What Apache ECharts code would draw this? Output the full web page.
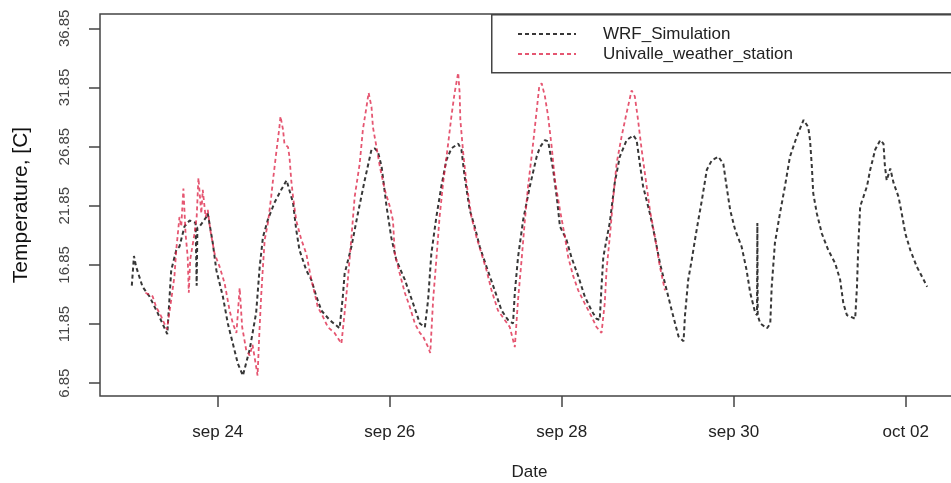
<!DOCTYPE html>
<html><head><meta charset="utf-8">
<script src="https://cdn.jsdelivr.net/npm/echarts@6/dist/echarts.min.js"></script>
<style>html,body{margin:0;padding:0;background:#fff}#c{width:951px;height:483px}</style>
</head><body><div id="c"></div>
<script>
// Start of series: 2019-09-23 00:00 (hours are counted from here)
const startDate = Date.UTC(2019, 8, 23, 0, 0);

const wrfHours = [0,0.6,1.2,3.0,4.9,7.2,9.9,11.0,12.4,13.3,14.7,16.1,17.0,17.8,18.1,18.3,18.9,20.8,21.2,22.6,23.6,25.4,26.8,28.2,29.6,31.0,32.9,34.7,35.7,36.6,38.0,39.8,41.7,43.2,45.0,45.9,46.8,48.7,50.1,51.5,52.9,55.2,58.0,58.9,59.4,61.3,63.1,65.0,66.9,67.8,68.7,69.7,71.1,72.4,73.8,76.2,78.5,80.4,81.8,82.7,83.6,85.0,86.4,87.8,89.2,91.1,92.0,92.9,94.3,95.7,97.1,99.0,101.3,103.2,105.0,106.4,106.9,107.8,109.2,111.1,113.0,113.9,115.3,116.2,117.6,118.6,119.5,121.3,122.7,124.6,126.4,128.3,129.7,130.6,131.1,131.6,132.5,133.4,134.8,136.2,138.1,140.0,140.9,141.8,142.7,144.6,146.0,147.4,149.3,150.7,152.6,154.0,154.4,155.3,156.3,157.2,158.1,159.1,160.5,161.9,163.7,165.1,166.0,167.0,168.4,170.2,171.6,172.6,174.0,174.5,174.6,174.7,175.4,177.3,178.2,178.6,179.5,180.9,182.3,183.7,185.6,187.5,188.8,189.3,189.8,190.2,191.2,192.6,194.4,196.3,197.7,198.6,199.6,201.9,202.4,202.8,203.3,204.2,205.2,206.1,207.5,208.9,209.8,210.2,210.7,211.7,212.6,214.0,214.9,215.9,217.3,219.1,221.0,222.0];
const wrfTemp = [15.1,17.6,16.7,15.0,14.2,12.8,11.0,16.4,18.1,18.4,20.1,20.6,20.5,20.4,15.1,20.0,20.1,20.9,21.2,18.7,16.4,14.2,11.9,10.2,8.5,7.5,9.7,12.8,16.7,19.2,20.7,22.1,23.2,24.0,22.1,19.8,18.1,16.4,15.6,14.2,13.0,12.2,11.5,14.2,16.1,18.4,21.2,24.0,26.6,26.7,26.4,25.2,21.8,19.2,17.3,15.6,13.6,11.9,11.6,13.9,17.8,20.9,23.5,25.7,26.7,27.1,26.6,24.3,21.5,20.1,18.4,16.7,14.7,13.0,12.2,11.9,14.5,17.5,20.6,23.5,26.0,26.8,27.4,27.3,24.9,22.6,20.1,19.0,17.5,15.9,14.2,13.0,12.3,12.2,15.0,17.5,19.0,20.4,23.8,26.0,27.4,27.8,27.4,25.4,23.5,21.2,19.2,17.0,14.7,13.0,10.8,10.4,12.6,15.6,17.3,19.0,20.6,22.3,24.9,25.7,26.0,25.4,23.5,21.5,19.8,18.4,16.4,14.5,12.8,12.6,20.4,12.6,11.9,11.5,11.9,15.0,18.7,21.2,23.5,26.0,27.7,29.1,28.5,27.4,25.2,22.9,21.2,19.5,18.1,17.0,15.6,13.6,12.6,12.3,15.0,18.7,21.8,22.6,23.5,24.9,26.6,27.4,27.1,25.2,24.0,25.0,23.8,22.6,21.2,19.5,18.1,16.7,15.6,15.0];

const stationHours = [3.8,5.8,6.8,8.2,9.8,11.0,11.9,12.4,13.3,13.8,14.4,15.0,15.6,15.9,16.3,17.5,18.1,18.6,19.4,19.8,20.6,21.2,21.9,23.1,24.5,25.9,27.3,28.2,29.2,30.1,30.8,31.9,32.9,33.7,35.1,35.6,36.1,36.6,37.1,38.0,38.9,39.4,40.3,41.2,41.5,42.2,42.6,43.6,44.0,44.5,45.0,45.9,47.3,48.7,50.1,51.0,51.9,53.3,54.7,56.6,58.5,59.4,60.3,61.3,62.2,63.6,64.5,65.5,66.1,66.9,67.3,68.3,69.2,70.6,72.0,72.9,73.4,74.8,76.2,77.6,79.0,80.4,81.3,82.7,83.3,84.1,85.0,85.9,86.9,88.3,89.2,90.1,91.1,91.5,91.7,92.5,93.4,94.8,96.2,97.6,99.0,100.4,102.2,104.1,105.5,106.9,107.8,108.8,109.7,110.6,112.0,113.0,113.7,114.4,115.3,116.2,117.2,118.1,119.5,120.9,121.8,123.2,124.6,126.4,128.3,129.7,131.1,132.0,132.5,133.4,134.4,135.3,136.7,138.1,139.5,140.4,141.3,142.3,143.7,144.6,146.0,147.4,148.8];
const stationTemp = [14.5,14.2,13.3,12.5,11.4,13.9,15.9,18.1,20.9,20.1,23.3,19.5,17.5,14.5,17.3,19.5,20.9,24.2,21.2,23.2,20.9,21.5,19.8,17.8,16.7,15.3,13.0,11.9,11.1,14.9,11.6,9.7,9.2,10.1,7.5,11.1,14.2,16.7,19.0,20.4,22.6,24.0,26.3,28.5,29.4,28.3,27.1,26.8,26.0,24.0,22.6,20.6,19.0,17.8,15.6,14.5,13.3,12.5,11.6,11.1,10.2,12.8,15.6,19.2,22.6,25.4,28.3,30.2,31.4,30.2,28.5,26.8,25.2,23.2,21.8,20.6,17.8,16.1,14.5,13.3,11.9,11.1,10.8,9.9,9.4,13.9,17.3,20.9,23.8,27.1,29.4,31.4,33.1,31.4,29.1,26.3,23.8,20.9,19.2,17.8,16.4,14.7,13.0,12.2,11.6,9.9,13.9,17.3,20.6,23.5,27.1,29.9,31.9,32.2,31.1,29.4,26.8,24.0,21.5,19.2,17.5,15.9,14.7,13.6,12.5,11.6,11.1,13.6,16.4,19.2,22.6,25.4,27.7,29.7,31.6,31.1,29.1,26.6,23.5,21.5,19.2,16.7,14.7];

const seriesNames = ['WRF_Simulation', 'Univalle_weather_station'];
const xTickDates = ['2019-09-24', '2019-09-26', '2019-09-28', '2019-09-30', '2019-10-02'];
const xTickLabels = ['sep 24', 'sep 26', 'sep 28', 'sep 30', 'oct 02'];
const yTicks = [6.85, 11.85, 16.85, 21.85, 26.85, 31.85, 36.85];
const yTickLabels = ['6.85', '11.85', '16.85', '21.85', '26.85', '31.85', '36.85'];

const H = 3600 * 1000;
const toPairs = (hs, vs) => hs.map((h, i) => [startDate + h * H, vs[i]]);
const xTickTs = xTickDates.map(d => Date.parse(d + 'T00:00:00Z'));
const xLabelOf = {}; xTickTs.forEach((t, i) => xLabelOf[Math.round(t / H)] = xTickLabels[i]);
const yLabelOf = {}; yTicks.forEach((v, i) => yLabelOf[v.toFixed(2)] = yTickLabels[i]);

const FONT = '"Liberation Sans", Arial, sans-serif';
const chart = echarts.init(document.getElementById('c'), null, {renderer: 'canvas'});
chart.setOption({
  animation: false,
  backgroundColor: '#fff',
  grid: {left: 100, top: 14, right: -8, bottom: 87, outerBoundsMode: 'none', containLabel: false,
         show: true, borderColor: '#444', borderWidth: 1.5, backgroundColor: 'transparent'},
  xAxis: {
    type: 'value',
    min: startDate - 8.88 * H,
    max: startDate + 230.88 * H,
    name: 'Date', nameLocation: 'middle', nameGap: 68,
    nameTextStyle: {fontFamily: FONT, fontSize: 17, color: '#222'},
    axisLine: {show: false},
    axisTick: {show: true, customValues: xTickTs, length: 11, lineStyle: {color: '#444', width: 1.5}},
    axisLabel: {customValues: xTickTs, formatter: v => xLabelOf[Math.round(v / H)] || '', fontFamily: FONT, fontSize: 17, color: '#222', margin: 28},
    splitLine: {show: false}
  },
  yAxis: {
    type: 'value',
    min: 5.77, max: 38.06,
    name: 'Temperature, [C]', nameLocation: 'middle', nameGap: 68, nameRotate: 90,
    nameTextStyle: {fontFamily: FONT, fontSize: 21, color: '#111'},
    axisLine: {show: false},
    axisTick: {show: true, customValues: yTicks, length: 11, lineStyle: {color: '#444', width: 1.5}},
    axisLabel: {customValues: yTicks, formatter: v => yLabelOf[Number(v).toFixed(2)] || '', rotate: 90, fontFamily: FONT, fontSize: 15, color: '#444', margin: 28},
    splitLine: {show: false}
  },
  legend: {
    orient: 'vertical', left: 517, top: 25, padding: 0,
    itemWidth: 58, itemHeight: 12, itemGap: 2,
    data: seriesNames,
    itemStyle: {color: 'rgba(0,0,0,0)', borderColor: 'rgba(0,0,0,0)', borderWidth: 0},
    textStyle: {fontFamily: FONT, fontSize: 17, lineHeight: 18, color: '#222', padding: [0, 0, 0, 22]}
  },
  graphic: [{
    type: 'rect', left: 491, top: 14, z: 5,
    shape: {width: 480, height: 58},
    style: {fill: 'rgba(255,255,255,0)', stroke: '#444', lineWidth: 1.5}
  }],
  series: [
    {name: seriesNames[0], type: 'line', data: toPairs(wrfHours, wrfTemp), showSymbol: false, symbol: 'none',
     lineStyle: {color: 'rgba(20,20,20,0.85)', width: 2, type: [4, 3]}, itemStyle: {color: 'rgba(20,20,20,0.85)'}, z: 2},
    {name: seriesNames[1], type: 'line', data: toPairs(stationHours, stationTemp), showSymbol: false, symbol: 'none',
     lineStyle: {color: 'rgba(220,30,65,0.75)', width: 1.8, type: [4, 3]}, itemStyle: {color: 'rgba(220,30,65,0.75)'}, z: 3}
  ]
});
</script></body></html>
